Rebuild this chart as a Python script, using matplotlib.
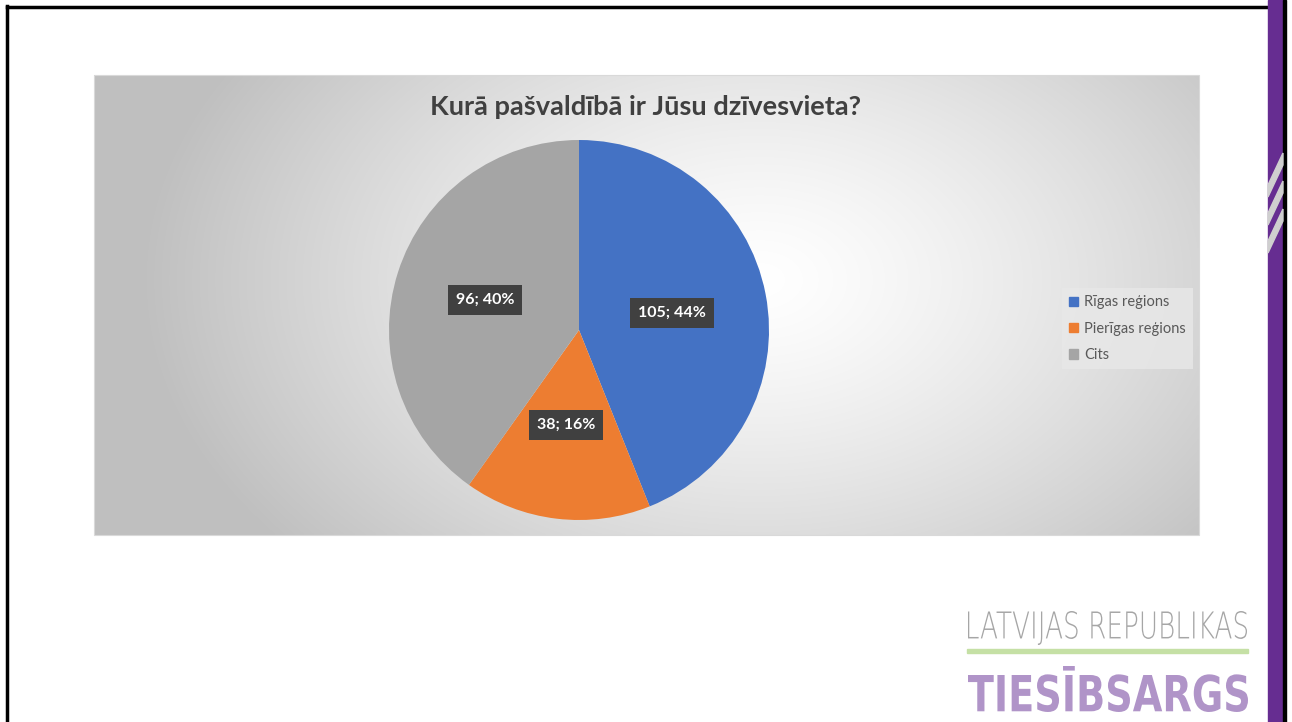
import numpy as np
import matplotlib.pyplot as plt
from matplotlib.patches import Rectangle, Polygon, PathPatch
from matplotlib.textpath import TextPath
from matplotlib.font_manager import FontProperties
from matplotlib.transforms import Affine2D

# chart data
categories = ['Rīgas reģions', 'Pierīgas reģions', 'Cits']
counts = [105, 38, 96]
colors = ['#4472c4', '#ed7d31', '#a5a5a5']
title = 'Kurā pašvaldībā ir Jūsu dzīvesvieta?'

FONT = ['Lato', 'DejaVu Sans']
W, H = 1292, 722
fig = plt.figure(figsize=(W / 100, H / 100), dpi=100)
fig.patch.set_facecolor('white')

# background layer in pixel coordinates (y downwards)
bg = fig.add_axes([0, 0, 1, 1])
bg.set_xlim(0, W)
bg.set_ylim(H, 0)
bg.axis('off')

# chart panel with radial gradient
px0, px1, py0, py1 = 94, 1199, 75, 535
xx, yy = np.meshgrid(np.linspace(px0, px1, 400), np.linspace(py0, py1, 200))
d = np.sqrt(((xx - 760) / 620) ** 2 + ((yy - 280) / 420) ** 2)
shade = 1.0 - 0.25 * np.clip(d, 0, 1) ** 1.3
bg.imshow(np.dstack([shade] * 3), extent=[px0, px1, py1, py0], aspect='auto',
          interpolation='bilinear', zorder=1)
bg.add_patch(Rectangle((px0, py0), px1 - px0, py1 - py0, fill=False,
                       ec='#d9d9d9', lw=0.8, zorder=2))

# slide frame
bg.plot([7, 7], [6, H], color='black', lw=2.5, zorder=5)
bg.plot([7, 1268], [6.5, 6.5], color='black', lw=2.5, zorder=5)
bg.add_patch(Rectangle((1268, 0), 16, H, color='#662d91', zorder=5))
bg.add_patch(Rectangle((1283, 0), 3, H, color='black', zorder=5))
for y0 in [185, 213, 241]:
    bg.add_patch(Polygon([[1268, y0], [1268, y0 + 12], [1283, y0 - 20], [1283, y0 - 32]],
                         closed=True, color='#cfcfcf', zorder=6))

# logo
def stretched_text(s, x, y, h, w, color, weight):
    fp = FontProperties(family='DejaVu Sans', weight=weight)
    tp = TextPath((0, 0), s, size=100, prop=fp)
    ext = tp.get_extents()
    sx = w / ext.width
    sy = h / ext.height
    tr = Affine2D().translate(-ext.x0, -ext.y0).scale(sx, -sy).translate(x, y)
    bg.add_patch(PathPatch(tr.transform_path(tp), color=color, lw=0, zorder=6))

stretched_text('LATVIJAS REPUBLIKAS', 968, 645, 34, 279, '#a6a6a6', 'light')
bg.add_patch(Rectangle((967, 649), 281, 4, color='#c5e0a5', zorder=6))
stretched_text('TIESĪBSARGS', 968, 712, 46, 280, '#b094c8', 'bold')

# title
fig.text(646 / W, 1 - 107 / H, title, ha='center', va='center', fontsize=19.6,
         fontweight='bold', color='#404040', family=FONT)

# pie
cx, cy, r = 579, 330, 190
ax = fig.add_axes([(cx - r) / W, 1 - (cy + r) / H, 2 * r / W, 2 * r / H])
total = sum(counts)
wedges, _ = ax.pie(counts, colors=colors, startangle=90, counterclock=False,
                   wedgeprops=dict(linewidth=0))
ax.set_xlim(-1, 1)
ax.set_ylim(-1, 1)
ax.set_aspect('equal')

label_pos = [(672, 313), (566, 425), (485, 300)]
for (lx, ly), c in zip(label_pos, counts):
    lab = f'{c}; {round(100 * c / total)}%'
    fig.text(lx / W, 1 - ly / H, lab, ha='center', va='center', fontsize=11.5,
             fontweight='bold', color='white', family=FONT,
             bbox=dict(boxstyle='square,pad=0.5', fc='#404040', ec='none'))

# legend
handles = [Rectangle((0, 0), 1, 1, color=col) for col in colors]
leg = fig.legend(handles, categories, loc='upper left',
                 bbox_to_anchor=(1062 / W, 1 - 288 / H), frameon=True,
                 borderaxespad=0,
                 handlelength=0.6, handleheight=0.6,
                 handletextpad=0.4, labelspacing=0.85, borderpad=0.5,
                 prop={'family': FONT, 'size': 10.5})
leg.get_frame().set_facecolor('#e8e8e8')
leg.get_frame().set_edgecolor('none')
leg.get_frame().set_boxstyle('square', pad=0)
for t in leg.get_texts():
    t.set_color('#595959')

fig.savefig('out.png', dpi=100)
